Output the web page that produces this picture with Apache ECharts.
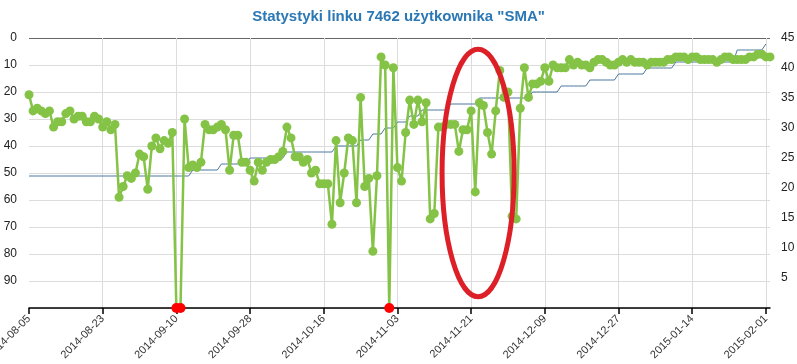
<!DOCTYPE html>
<html>
<head>
<meta charset="utf-8">
<script src="https://cdn.jsdelivr.net/npm/echarts@6/dist/echarts.min.js"></script>
<style>
html,body{margin:0;padding:0;background:#fff;}
#chart{width:797px;height:364px;}
</style>
</head>
<body>
<div id="chart"></div>
<script>
const titleText = 'Statystyki linku 7462 użytkownika "SMA"';
const startDate = '2014-08-05';
const dayCount = 182;
// position of the link (left axis, inverted); 100 = outside top 100 (drawn red at the bottom)
const position = [
  21,27,26,27,28,27,33,31,31,28,
  27,30,29,29,31,31,29,30,33,31,
  34,32,59,55,51,52,50,43,44,56,
  40,37,41,38,39,35,100,100,30,48,
  47,48,46,32,34,34,33,32,34,49,
  36,36,46,46,49,53,46,49,46,45,
  45,44,42,33,37,44,44,46,45,50,
  49,54,54,54,69,38,61,50,37,38,
  61,22,55,52,79,51,7,10,100,11,
  48,53,35,23,32,23,31,24,67,65,
  33,33,32,32,32,42,34,34,27,57,
  24,25,35,43,27,12,22,20,66,67,
  26,11,22,17,17,16,11,16,10,11,
  11,11,8,10,9,10,10,11,9,8,
  8,9,10,10,9,8,9,8,9,9,
  9,10,9,9,9,9,8,8,7,7,
  7,8,7,7,8,8,8,8,9,8,
  7,7,8,8,8,8,7,7,6,6,
  7,7
];
// count line (right axis)
const countLine = [
  22,22,22,22,22,22,22,22,22,22,
  22,22,22,22,22,22,22,22,22,22,
  22,22,22,22,22,22,22,22,22,22,
  22,22,22,22,22,22,22,22,22,22,
  23,23,23,23,23,23,23,24,24,24,
  24,24,24,24,25,25,25,25,25,25,
  25,25,25,26,26,26,26,26,26,26,
  26,26,26,26,26,27,27,27,27,27,
  27,28,28,28,29,29,29,30,30,30,
  31,31,31,32,32,32,33,33,33,33,
  33,33,33,34,34,34,34,34,34,34,
  35,35,35,35,35,35,35,35,35,35,
  35,35,35,36,36,36,36,36,36,36,
  37,37,37,37,37,37,37,38,38,38,
  38,38,38,38,39,39,39,39,39,39,
  39,40,40,40,40,40,40,40,41,41,
  41,41,41,41,41,41,41,41,41,41,
  41,41,41,43,43,43,43,43,43,43,
  44
];
const leftTicks = [0,10,20,30,40,50,60,70,80,90];
const rightTicks = [5,10,15,20,25,30,35,40,45];

const dates = [];
{
  const d0 = new Date(startDate + 'T00:00:00Z');
  for (let i = 0; i < dayCount; i++) {
    const d = new Date(d0.getTime() + i * 86400000);
    dates.push(d.toISOString().slice(0, 10));
  }
}

const FONT = 'Arial, "Liberation Sans", sans-serif';
const greenData = position.map(v => v >= 100
  ? { value: 100, symbolSize: 10, itemStyle: { color: '#ff0000' } }
  : v);

const xSplitColors = ['rgba(0,0,0,0)'].concat(Array(12).fill('#dcdcdc'));
const ySplitColors = ['#666666'].concat(Array(10).fill('#dcdcdc'));

const chart = echarts.init(document.getElementById('chart'), null, { renderer: 'canvas' });
chart.setOption({
  animation: false,
  backgroundColor: '#ffffff',
  title: {
    text: titleText, left: 'center', top: 4,
    textStyle: { fontFamily: FONT, fontSize: 15, fontWeight: 'bold', color: '#2b78b4' }
  },
  grid: { left: 29, right: 27, top: 38, bottom: 56, containLabel: false, outerBoundsMode: 'none' },
  xAxis: {
    type: 'category', data: dates, boundaryGap: false,
    axisLine: { show: true, onZero: false, lineStyle: { color: '#000', width: 1.5 } },
    axisTick: { show: true, interval: 17, length: 6, lineStyle: { color: '#000', width: 1.5 } },
    axisLabel: { interval: 17, rotate: 45, fontFamily: FONT, fontSize: 11, color: '#333', margin: 9 },
    splitLine: { show: true, interval: 17, lineStyle: { color: xSplitColors, width: 1 } }
  },
  yAxis: [
    {
      type: 'value', inverse: true, min: 0, max: 100, interval: 10, position: 'left',
      axisLine: { show: false }, axisTick: { show: false },
      axisLabel: { fontFamily: FONT, fontSize: 12, color: '#222', margin: 12,
        formatter: v => leftTicks.includes(v) ? String(v) : '' },
      splitLine: { show: true, lineStyle: { color: ySplitColors, width: 1 } }
    },
    {
      type: 'value', min: 0, max: 45, interval: 5, position: 'right',
      axisLine: { show: false }, axisTick: { show: false },
      axisLabel: { fontFamily: FONT, fontSize: 12, color: '#222', margin: 11,
        formatter: v => rightTicks.includes(v) ? String(v) : '' },
      splitLine: { show: false }
    }
  ],
  series: [
    {
      type: 'line', yAxisIndex: 1, data: countLine, symbol: 'none', clip: false,
      lineStyle: { color: '#4b78a0', width: 1 }, z: 2
    },
    {
      type: 'line', yAxisIndex: 0, data: greenData, symbol: 'circle', symbolSize: 9,
      showAllSymbol: true, clip: false,
      lineStyle: { color: '#84c346', width: 2.5 },
      itemStyle: { color: '#84c346' }, z: 3
    }
  ]
});

// red ellipse annotation, placed in data units
const ellipseCenterDay = 109.7, ellipseCenterValue = 50, ellipseHalfDays = 8.8, ellipseHalfValue = 45.8;
const pA = chart.convertToPixel({ gridIndex: 0 }, [0, 0]);
const pB = chart.convertToPixel({ gridIndex: 0 }, [dayCount - 1, 100]);
const dayW = (pB[0] - pA[0]) / (dayCount - 1);
const unitH = (pB[1] - pA[1]) / 100;
chart.setOption({
  graphic: [{
    type: 'ellipse', z: 100,
    shape: {
      cx: pA[0] + ellipseCenterDay * dayW,
      cy: pA[1] + ellipseCenterValue * unitH,
      rx: ellipseHalfDays * dayW,
      ry: ellipseHalfValue * unitH
    },
    style: { fill: 'none', stroke: '#dd2027', lineWidth: 5 }
  }]
});
</script>
</body>
</html>
